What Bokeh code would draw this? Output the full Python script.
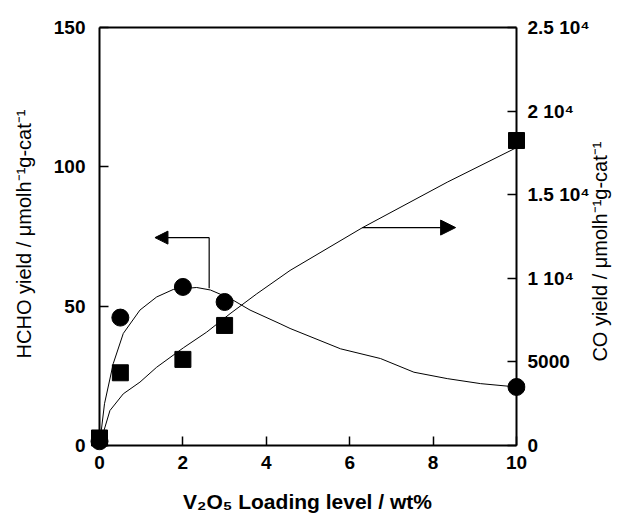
import math
from bokeh.plotting import figure
from bokeh.models import LinearAxis, Range1d, FixedTicker, Arrow, NormalHead
from bokeh.embed import file_html
from bokeh.resources import INLINE

# ---- data ----
loading = [0, 0.5, 2, 3, 10]                      # V2O5 loading, wt%
hcho_yield = [1.5, 45.9, 56.9, 51.5, 21.0]        # left axis
co_yield = [450, 4350, 5150, 7180, 18240]         # right axis

# fitted guide curves
hcho_fit_x = [0, 0.12, 0.33, 0.57, 0.97, 1.37, 1.77, 2.33, 2.66, 3.13, 3.61,
              4.33, 4.57, 5.78, 6.74, 7.54, 8.34, 9.14, 10]
hcho_fit_y = [0, 15.0, 29.4, 40.2, 48.6, 53.3, 56.0, 56.7, 55.8, 52.8, 48.6,
              43.7, 42.0, 34.7, 31.2, 26.3, 24.0, 22.2, 21.0]
co_fit_x = [0, 0.25, 0.57, 0.97, 1.37, 2.01, 2.57, 3.13, 3.77, 4.57, 6.30,
            8.34, 9.94, 10]
co_fit_y = [0, 2090, 3090, 3790, 4680, 5840, 6780, 7880, 9070, 10470, 13020,
            15750, 17740, 17800]

x_ticks = [0, 2, 4, 6, 8, 10]
left_ticks = [0, 50, 100, 150]
right_ticks = [0, 5000, 10000, 15000, 20000, 25000]
right_tick_labels = ["0", "5000", "1 10\u2074", "1.5 10\u2074", "2 10\u2074", "2.5 10\u2074"]

X_MIN, X_MAX = 0, 10
Y_MIN, Y_MAX = 0, 150
CO_MIN, CO_MAX = 0, 25000

FONT = "Liberation Sans"
LEFT_TITLE = "HCHO yield / \u03bcmolh\u207b\u00b9g-cat\u207b\u00b9"
RIGHT_TITLE = "CO yield / \u03bcmolh\u207b\u00b9g-cat\u207b\u00b9"
BOTTOM_TITLE = "V\u2082O\u2085 Loading level / wt%"

# geometry: axes box at px 99..516 (x) and 27..445 (y); the frame is padded
# so that markers sitting on the axes are not clipped
PAD_L, PAD_R, PAD_T, PAD_B = 10, 9, 10, 5
W, H = 624, 515
box_l, box_r, box_t, box_b = 99, 516, 27, 445
xpx = (box_r - box_l) / (X_MAX - X_MIN)
ypx = (box_b - box_t) / (Y_MAX - Y_MIN)
cpx = (box_b - box_t) / (CO_MAX - CO_MIN)

p = figure(width=W, height=H, output_backend="svg", toolbar_location=None,
           x_range=Range1d(X_MIN - PAD_L / xpx, X_MAX + PAD_R / xpx),
           y_range=Range1d(Y_MIN - PAD_B / ypx, Y_MAX + PAD_T / ypx),
           x_axis_location=None, y_axis_location=None,
           min_border_left=box_l - PAD_L, min_border_right=W - box_r - PAD_R,
           min_border_top=box_t - PAD_T, min_border_bottom=H - box_b - PAD_B)
p.extra_y_ranges = {"co": Range1d(CO_MIN - PAD_B / cpx, CO_MAX + PAD_T / cpx)}
p.grid.visible = False
p.background_fill_color = "white"
p.border_fill_color = "white"
p.outline_line_color = None


def label_axis(ax, standoff):
    """Axis at the frame edge that only carries tick labels and the title."""
    ax.axis_line_color = None
    ax.major_tick_line_color = None
    ax.minor_tick_line_color = None
    ax.major_tick_in = 0
    ax.major_tick_out = 0
    ax.minor_tick_in = 0
    ax.minor_tick_out = 0
    ax.major_label_standoff = standoff
    ax.major_label_text_font = FONT
    ax.major_label_text_font_style = "bold"
    ax.major_label_text_font_size = "19px"
    ax.major_label_text_color = "black"
    ax.axis_label_text_font = FONT
    ax.axis_label_text_color = "black"


def line_axis(ax):
    """Axis drawn at the data box edge: line and inward ticks only."""
    ax.axis_line_width = 2
    ax.axis_line_color = "black"
    ax.major_tick_in = 9
    ax.major_tick_out = 0
    ax.major_tick_line_width = 1.5
    ax.major_tick_line_color = "black"
    ax.minor_tick_line_color = None
    ax.minor_tick_in = 0
    ax.minor_tick_out = 0
    ax.major_label_standoff = 0
    ax.major_label_text_font_size = "0px"
    ax.major_label_text_alpha = 0


# --- label axes (adjacent to the frame) ---
xl = LinearAxis(ticker=FixedTicker(ticks=x_ticks), axis_label=BOTTOM_TITLE)
label_axis(xl, 5)
xl.axis_label_text_font_size = "21px"
xl.axis_label_text_font_style = "bold"
xl.axis_label_standoff = 18
p.add_layout(xl, "below")

yl = LinearAxis(ticker=FixedTicker(ticks=left_ticks), axis_label=LEFT_TITLE)
label_axis(yl, 4)
yl.axis_label_text_font_size = "20px"
yl.axis_label_text_font_style = "normal"
yl.axis_label_standoff = 16
p.add_layout(yl, "left")

# right title reads bottom-to-top, anchored at its start
rl = LinearAxis(y_range_name="co", ticker=FixedTicker(ticks=right_ticks),
                axis_label="\u00a0" * 16 + RIGHT_TITLE)
label_axis(rl, 2)
rl.major_label_overrides = {t: s for t, s in zip(right_ticks, right_tick_labels)}
rl.axis_label_text_font_size = "20px"
rl.axis_label_text_font_style = "normal"
rl.axis_label_standoff = 7
rl.axis_label_orientation = math.pi / 2
try:
    rl.axis_label_align = "start"
except Exception:
    try:
        rl.axis_label_align = "left"
    except Exception:
        pass
p.add_layout(rl, "right")

# --- line axes (fixed on the data box) ---
xa = LinearAxis(fixed_location=Y_MIN, bounds=(X_MIN, X_MAX),
                ticker=FixedTicker(ticks=x_ticks))
line_axis(xa)
p.add_layout(xa, "below")

ta = LinearAxis(fixed_location=Y_MAX, bounds=(X_MIN, X_MAX),
                ticker=FixedTicker(ticks=[]))
line_axis(ta)
ta.major_tick_in = 0
p.add_layout(ta, "above")

ya = LinearAxis(fixed_location=X_MIN, bounds=(Y_MIN, Y_MAX),
                ticker=FixedTicker(ticks=left_ticks))
line_axis(ya)
p.add_layout(ya, "left")

ra = LinearAxis(y_range_name="co", fixed_location=X_MAX, bounds=(CO_MIN, CO_MAX),
                ticker=FixedTicker(ticks=right_ticks))
line_axis(ra)
p.add_layout(ra, "right")

# curves
p.line(hcho_fit_x, hcho_fit_y, line_color="black", line_width=1)
p.line(co_fit_x, co_fit_y, line_color="black", line_width=1, y_range_name="co")

# markers
p.scatter(loading, hcho_yield, marker="circle", size=17, fill_color="black",
          line_color="black")
p.scatter(loading, co_yield, marker="square", size=16, fill_color="black",
          line_color="black", y_range_name="co")

# arrows indicating the axis for each curve
p.add_layout(Arrow(end=NormalHead(size=13, fill_color="black", line_color="black"),
                   x_start=2.63, y_start=74.6, x_end=1.33, y_end=74.6,
                   line_width=1.2, line_color="black"))
p.segment(x0=[2.63], y0=[74.6], x1=[2.63], y1=[56.4], line_color="black", line_width=1.2)
p.add_layout(Arrow(end=NormalHead(size=15, fill_color="black", line_color="black"),
                   x_start=6.30, y_start=78.2, x_end=8.54, y_end=78.2,
                   line_width=1.2, line_color="black"))

open("out.html", "w").write(file_html(p, INLINE))
